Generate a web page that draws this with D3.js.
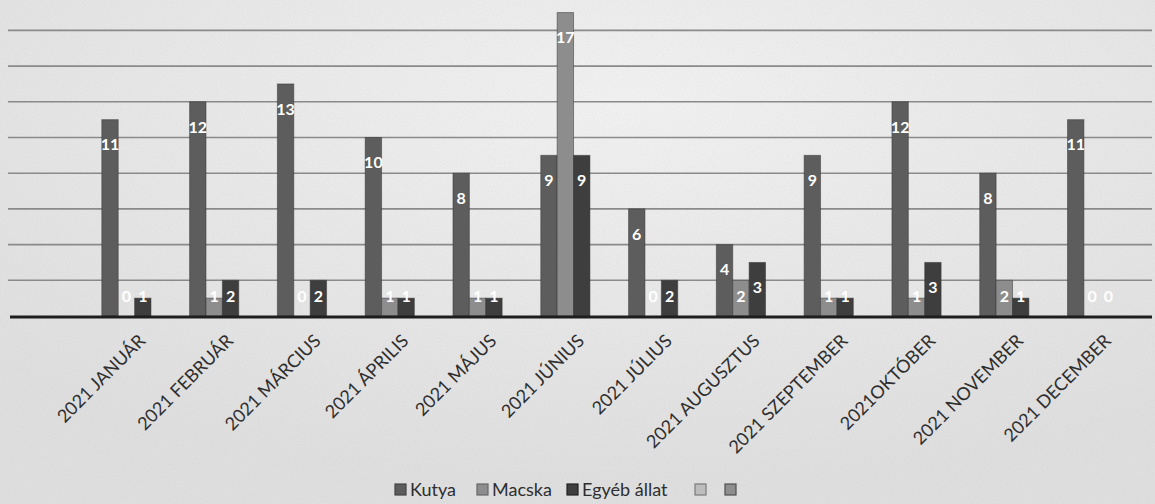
<!DOCTYPE html>
<html>
<head>
<meta charset="utf-8">
<script src="https://cdn.jsdelivr.net/npm/d3@7"></script>
<style>
  html, body { margin: 0; padding: 0; background: #e9e9e9; }
  svg { display: block; }
</style>
</head>
<body>
<svg></svg>
<script>
const width = 1155;
const height = 504;

// chart data
const months = ["2021 JANUÁR", "2021 FEBRUÁR", "2021 MÁRCIUS", "2021 ÁPRILIS", "2021 MÁJUS", "2021 JÚNIUS",
    "2021 JÚLIUS", "2021 AUGUSZTUS", "2021 SZEPTEMBER", "2021OKTÓBER", "2021 NOVEMBER", "2021 DECEMBER"];
const kutya = [11, 12, 13, 10, 8, 9, 6, 4, 9, 12, 8, 11];
const macska = [0, 1, 0, 1, 1, 17, 0, 2, 1, 1, 2, 0];
const egyeb = [1, 2, 2, 1, 1, 9, 2, 3, 1, 3, 1, 0];
const seriesNames = ["Kutya", "Macska", "Egyéb állat"];
const gridTicks = [2, 4, 6, 8, 10, 12, 14, 16];

const colors = ["#5d5d5d", "#8d8d8d", "#3e3e3e"];
const font = "Lato, 'Open Sans', sans-serif";

const svg = d3.select("svg")
    .attr("width", width)
    .attr("height", height);

// scanned paper look
const defs = svg.append("defs");
const grad = defs.append("radialGradient")
    .attr("id", "paper")
    .attr("cx", "55%").attr("cy", "20%").attr("r", "75%");
grad.append("stop").attr("offset", "0%").attr("stop-color", "#f6f6f6");
grad.append("stop").attr("offset", "100%").attr("stop-color", "#e2e2e2");

const noise = defs.append("filter").attr("id", "grain")
    .attr("x", 0).attr("y", 0).attr("width", "100%").attr("height", "100%");
noise.append("feTurbulence")
    .attr("type", "fractalNoise")
    .attr("baseFrequency", 0.9)
    .attr("numOctaves", 2)
    .attr("seed", 3);
noise.append("feColorMatrix")
    .attr("type", "matrix")
    .attr("values", "0 0 0 0 0.4  0 0 0 0 0.4  0 0 0 0 0.4  0 0 0 0.35 0");

svg.append("rect").attr("width", width).attr("height", height).attr("fill", "url(#paper)");
svg.append("rect").attr("width", width).attr("height", height).attr("filter", "url(#grain)").attr("opacity", 0.5);

const x = d3.scaleBand()
    .domain(months)
    .range([82.5, 1136])
    .paddingInner(0.44)
    .paddingOuter(0.22);

const x1 = d3.scaleBand()
    .domain(d3.range(3))
    .range([0, x.bandwidth()]);

const y = d3.scaleLinear()
    .domain([0, 18])
    .range([316, -5.3]);

// grid lines
svg.append("g")
    .selectAll("line")
    .data(gridTicks)
    .join("line")
    .attr("x1", 8)
    .attr("x2", 1152)
    .attr("y1", d => y(d))
    .attr("y2", d => y(d))
    .attr("stroke", "#8a8a8a")
    .attr("stroke-width", 1.6);

const rows = months.map((m, i) => ({month: m, values: [kutya[i], macska[i], egyeb[i]]}));

const groups = svg.append("g")
    .selectAll("g")
    .data(rows)
    .join("g")
    .attr("transform", d => `translate(${x(d.month)},0)`);

groups.selectAll("rect")
    .data(d => d.values.map((v, k) => ({v, k})))
    .join("rect")
    .attr("x", d => x1(d.k))
    .attr("width", x1.bandwidth())
    .attr("y", d => y(d.v))
    .attr("height", d => y(0) - y(d.v))
    .attr("fill", d => colors[d.k])
    .attr("stroke", d => d.v > 0 ? "#333" : "none")
    .attr("stroke-opacity", 0.5)
    .attr("stroke-width", 1);

// baseline
svg.append("line")
    .attr("x1", 10).attr("x2", 1152)
    .attr("y1", y(0) + 1).attr("y2", y(0) + 1)
    .attr("stroke", "#1e1e1e")
    .attr("stroke-width", 3);

// data labels
groups.selectAll("text")
    .data(d => d.values.map((v, k) => ({v, k})))
    .join("text")
    .attr("x", d => x1(d.k) + x1.bandwidth() / 2)
    .attr("y", d => Math.min(y(d.v) + 25, y(0) - 20))
    .attr("dy", "0.36em")
    .attr("text-anchor", "middle")
    .attr("fill", "#fff")
    .attr("font-family", font)
    .attr("font-weight", "bold")
    .attr("font-size", 16)
    .text(d => d.v);

// category labels
svg.append("g")
    .selectAll("text")
    .data(months)
    .join("text")
    .attr("transform", d => `translate(${x(d) + x.bandwidth() / 2 + 20},342) rotate(-45)`)
    .attr("text-anchor", "end")
    .attr("fill", "#2e2e2e")
    .attr("font-family", font)
    .attr("font-size", 18)
    .text(d => d);

// legend
const legendItems = [
    {name: seriesNames[0], fill: colors[0], stroke: "#444", x: 395},
    {name: seriesNames[1], fill: colors[1], stroke: "#666", x: 477},
    {name: seriesNames[2], fill: colors[2], stroke: "#222", x: 567},
    {name: "", fill: "#bdbdbd", stroke: "#7a7a7a", x: 695},
    {name: "", fill: "#8e8e8e", stroke: "#4f4f4f", x: 725}
];

const legend = svg.append("g")
    .selectAll("g")
    .data(legendItems)
    .join("g")
    .attr("transform", d => `translate(${d.x},484)`);

legend.append("rect")
    .attr("width", 11)
    .attr("height", 11)
    .attr("fill", d => d.fill)
    .attr("stroke", d => d.stroke)
    .attr("stroke-width", 1.2);

legend.append("text")
    .attr("x", 15)
    .attr("y", 11.5)
    .attr("fill", "#2e2e2e")
    .attr("font-family", font)
    .attr("font-size", 18)
    .text(d => d.name);
</script>
</body>
</html>
